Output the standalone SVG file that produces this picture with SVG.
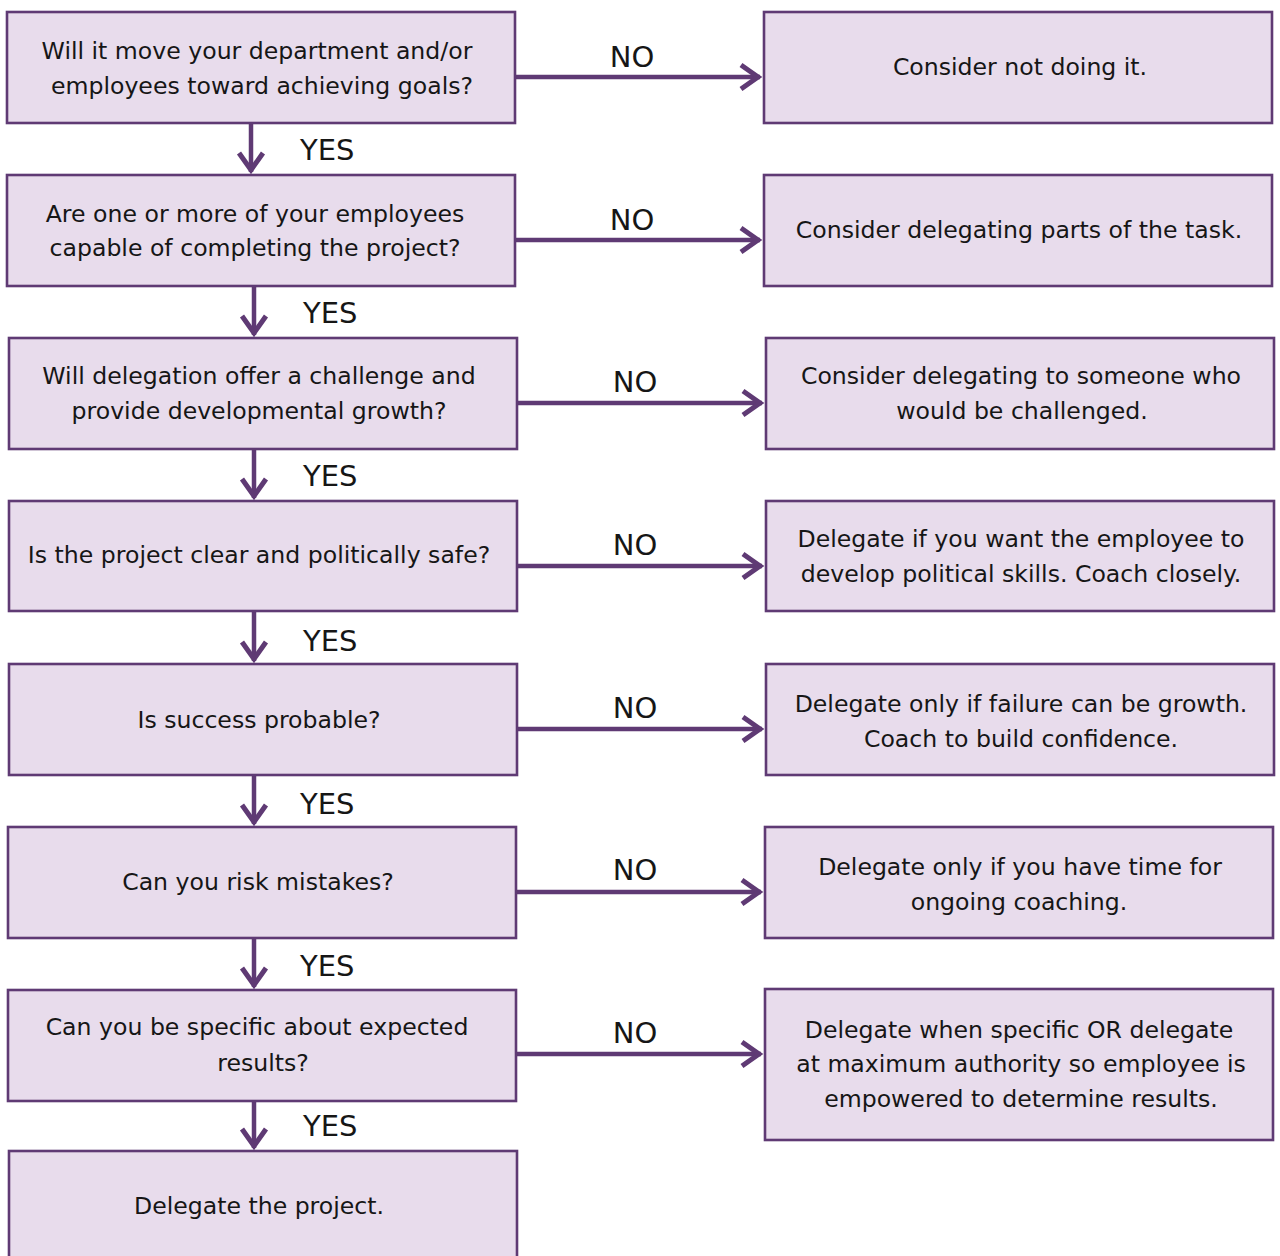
<svg xmlns="http://www.w3.org/2000/svg" width="1280" height="1256" viewBox="0 0 1280 1256">
<style>
.box{fill:#e8dcec;stroke:#5f3a74;stroke-width:2.6}
.t{font-family:"DejaVu Sans","Open Sans",sans-serif;font-size:23.6px;fill:#161616;text-anchor:middle}
.lbl{font-family:"DejaVu Sans","Open Sans",sans-serif;font-size:29px;fill:#161616}
.c{stroke:#5f3a74;stroke-width:4.5;fill:none;marker-end:url(#chev)}
</style>
<defs>
<marker id="chev" markerUnits="userSpaceOnUse" viewBox="-24 -18 28 36" refX="0" refY="0" markerWidth="28" markerHeight="36" orient="auto" overflow="visible">
<path d="M-19,-12 L-2,0 L-19,12" fill="none" stroke="#5f3a74" stroke-width="5"/>
</marker>
</defs>
<rect width="1280" height="1256" fill="#fff"/>
<g id="connectors">
<path class="c" d="M515,77 H760"/>
<path class="c" d="M515,240 H760"/>
<path class="c" d="M517,403 H762"/>
<path class="c" d="M517,566 H762"/>
<path class="c" d="M517,729 H762"/>
<path class="c" d="M516,892 H761"/>
<path class="c" d="M516,1054 H761"/>
<path class="c" d="M251,123 V172"/>
<path class="c" d="M254,286 V335"/>
<path class="c" d="M254,449 V498"/>
<path class="c" d="M254,611 V661"/>
<path class="c" d="M254,775 V824"/>
<path class="c" d="M254,938 V987"/>
<path class="c" d="M254,1101 V1148"/>
<text class="lbl" x="632" y="67" text-anchor="middle">NO</text>
<text class="lbl" x="632" y="230" text-anchor="middle">NO</text>
<text class="lbl" x="635" y="392" text-anchor="middle">NO</text>
<text class="lbl" x="635" y="555" text-anchor="middle">NO</text>
<text class="lbl" x="635" y="718" text-anchor="middle">NO</text>
<text class="lbl" x="635" y="880" text-anchor="middle">NO</text>
<text class="lbl" x="635" y="1043" text-anchor="middle">NO</text>
<text class="lbl" x="300" y="160">YES</text>
<text class="lbl" x="303" y="323">YES</text>
<text class="lbl" x="303" y="486">YES</text>
<text class="lbl" x="303" y="651">YES</text>
<text class="lbl" x="300" y="814">YES</text>
<text class="lbl" x="300" y="976">YES</text>
<text class="lbl" x="303" y="1136">YES</text>
</g>
<g id="q1"><rect class="box" x="7" y="12" width="508" height="111"/><text class="t" x="257" y="59">Will it move your department and/or</text><text class="t" x="262" y="94">employees toward achieving goals?</text></g>
<g id="q2"><rect class="box" x="7" y="175" width="508" height="111"/><text class="t" x="255" y="222">Are one or more of your employees</text><text class="t" x="255" y="256">capable of completing the project?</text></g>
<g id="q3"><rect class="box" x="9" y="338" width="508" height="111"/><text class="t" x="259" y="384">Will delegation offer a challenge and</text><text class="t" x="259" y="419">provide developmental growth?</text></g>
<g id="q4"><rect class="box" x="9" y="501" width="508" height="110"/><text class="t" x="259" y="563">Is the project clear and politically safe?</text></g>
<g id="q5"><rect class="box" x="9" y="664" width="508" height="111"/><text class="t" x="259" y="728">Is success probable?</text></g>
<g id="q6"><rect class="box" x="8" y="827" width="508" height="111"/><text class="t" x="258" y="890">Can you risk mistakes?</text></g>
<g id="q7"><rect class="box" x="8" y="990" width="508" height="111"/><text class="t" x="257" y="1035">Can you be specific about expected</text><text class="t" x="263" y="1071">results?</text></g>
<g id="q8"><rect class="box" x="9" y="1151" width="508" height="115"/><text class="t" x="259" y="1214">Delegate the project.</text></g>
<g id="a1"><rect class="box" x="764" y="12" width="508" height="111"/><text class="t" x="1020" y="75">Consider not doing it.</text></g>
<g id="a2"><rect class="box" x="764" y="175" width="508" height="111"/><text class="t" x="1019" y="238">Consider delegating parts of the task.</text></g>
<g id="a3"><rect class="box" x="766" y="338" width="508" height="111"/><text class="t" x="1021" y="384">Consider delegating to someone who</text><text class="t" x="1022" y="419">would be challenged.</text></g>
<g id="a4"><rect class="box" x="766" y="501" width="508" height="110"/><text class="t" x="1021" y="547">Delegate if you want the employee to</text><text class="t" x="1021" y="582">develop political skills. Coach closely.</text></g>
<g id="a5"><rect class="box" x="766" y="664" width="508" height="111"/><text class="t" x="1021" y="712">Delegate only if failure can be growth.</text><text class="t" x="1021" y="747">Coach to build confidence.</text></g>
<g id="a6"><rect class="box" x="765" y="827" width="508" height="111"/><text class="t" x="1020" y="875">Delegate only if you have time for</text><text class="t" x="1019" y="910">ongoing coaching.</text></g>
<g id="a7"><rect class="box" x="765" y="989" width="508" height="151"/><text class="t" x="1019" y="1038">Delegate when specific OR delegate</text><text class="t" x="1021" y="1072">at maximum authority so employee is</text><text class="t" x="1021" y="1107">empowered to determine results.</text></g>
</svg>
